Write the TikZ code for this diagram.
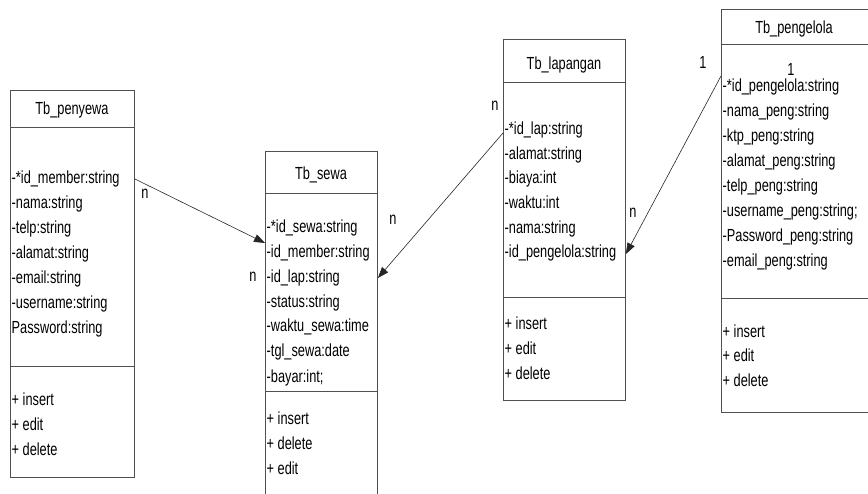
\documentclass[tikz,border=0pt]{standalone}
\usepackage{fontspec}
\setmainfont{Liberation Sans}[FakeStretch=0.73]
\usetikzlibrary{arrows.meta,calc}
\definecolor{edgegray}{RGB}{80,80,80}
\begin{document}
\begin{tikzpicture}[x=1pt,y=-1pt,
  font=\fontsize{17.5}{25}\selectfont,
  classbox/.style={draw=edgegray, line width=0.9pt, rectangle, inner sep=0pt, anchor=north west},
  divider/.style={draw=edgegray, line width=0.9pt},
  attr/.style={anchor=base west, inner sep=0pt},
  ctitle/.style={anchor=base, inner sep=0pt},
  mult/.style={anchor=base, inner sep=0pt},
  rel/.style={draw=black!85, line width=0.6pt, -{Triangle[length=11pt,width=8pt]}}]
\useasboundingbox (0,0) rectangle (868,493);

% ---------- Tb_penyewa ----------
\node[classbox, minimum width=124pt, minimum height=387pt] (penyewa) at (10,90) {};
\draw[divider] (penyewa.west |- 0,127) -- (penyewa.east |- 0,127);
\draw[divider] (penyewa.west |- 0,366) -- (penyewa.east |- 0,366);
\node[ctitle] (penyewaT) at (72,114) {Tb\_penyewa};
\node[attr] (p1) at (11.5,183) {-*id\_member:string};
\node[attr] (p2) at (11.5,208) {-nama:string};
\node[attr] (p3) at (11.5,233) {-telp:string};
\node[attr] (p4) at (11.5,258) {-alamat:string};
\node[attr] (p5) at (11.5,283) {-email:string};
\node[attr] (p6) at (11.5,308) {-username:string};
\node[attr] (p7) at (11.5,333) {Password:string};
\node[attr] (pm1) at (11.5,405) {+ insert};
\node[attr] (pm2) at (11.5,430) {+ edit};
\node[attr] (pm3) at (11.5,455) {+ delete};

% ---------- Tb_sewa ----------
\node[classbox, minimum width=112pt, minimum height=352pt] (sewa) at (265,151) {};
\draw[divider] (sewa.west |- 0,193) -- (sewa.east |- 0,193);
\draw[divider] (sewa.west |- 0,391) -- (sewa.east |- 0,391);
\node[ctitle] (sewaT) at (321,179) {Tb\_sewa};
\node[attr] (s1) at (266.5,232) {-*id\_sewa:string};
\node[attr] (s2) at (266.5,257) {-id\_member:string};
\node[attr] (s3) at (266.5,282) {-id\_lap:string};
\node[attr] (s4) at (266.5,307) {-status:string};
\node[attr] (s5) at (266.5,331) {-waktu\_sewa:time};
\node[attr] (s6) at (266.5,356) {-tgl\_sewa:date};
\node[attr] (s7) at (266.5,382) {-bayar:int;};
\node[attr] (sm1) at (266.5,424) {+ insert};
\node[attr] (sm2) at (266.5,449) {+ delete};
\node[attr] (sm3) at (266.5,474) {+ edit};

% ---------- Tb_lapangan ----------
\node[classbox, minimum width=122pt, minimum height=361pt] (lap) at (503,39) {};
\draw[divider] (lap.west |- 0,82) -- (lap.east |- 0,82);
\draw[divider] (lap.west |- 0,297) -- (lap.east |- 0,297);
\node[ctitle] (lapT) at (564,69) {Tb\_lapangan};
\node[attr] (l1) at (504.5,134) {-*id\_lap:string};
\node[attr] (l2) at (504.5,159) {-alamat:string};
\node[attr] (l3) at (504.5,183) {-biaya:int};
\node[attr] (l4) at (504.5,208) {-waktu:int};
\node[attr] (l5) at (504.5,233) {-nama:string};
\node[attr] (l6) at (504.5,257) {-id\_pengelola:string};
\node[attr] (lm1) at (504.5,329) {+ insert};
\node[attr] (lm2) at (504.5,354) {+ edit};
\node[attr] (lm3) at (504.5,379) {+ delete};

% ---------- Tb_pengelola ----------
\node[classbox, minimum width=148pt, minimum height=403pt] (peng) at (721,9) {};
\draw[divider] (peng.west |- 0,44) -- (peng.east |- 0,44);
\draw[divider] (peng.west |- 0,298) -- (peng.east |- 0,298);
\node[ctitle] (pengT) at (794,33) {Tb\_pengelola};
\node[attr] (g1) at (722.5,91) {-*id\_pengelola:string};
\node[attr] (g2) at (722.5,116) {-nama\_peng:string};
\node[attr] (g3) at (722.5,141) {-ktp\_peng:string};
\node[attr] (g4) at (722.5,166) {-alamat\_peng:string};
\node[attr] (g5) at (722.5,191) {-telp\_peng:string};
\node[attr] (g6) at (722.5,216) {-username\_peng:string;};
\node[attr] (g7) at (722.5,241) {-Password\_peng:string};
\node[attr] (g8) at (722.5,266) {-email\_peng:string};
\node[attr] (gm1) at (722.5,337) {+ insert};
\node[attr] (gm2) at (722.5,361) {+ edit};
\node[attr] (gm3) at (722.5,386) {+ delete};

% ---------- connector end points on the class borders ----------
\coordinate (penOut) at (penyewa.east |- 0,179);
\coordinate (sewaInL) at (sewa.west |- 0,243);
\coordinate (lapOut) at (lap.west |- 0,133);
\coordinate (sewaInR) at (sewa.east |- 0,278);
\coordinate (pengOut) at (peng.west |- 0,76);
\coordinate (lapInR) at (lap.east |- 0,254);

% ---------- relations ----------
\draw[rel] (penOut) -- (sewaInL);
\draw[rel] (lapOut) -- (sewaInR);
\draw[rel] (pengOut) -- (lapInR);

% ---------- multiplicities ----------
\node[mult] (m1) at (145,198) {n};
\node[mult] (m2) at (253,281) {n};
\node[mult] (m3) at (495,110) {n};
\node[mult] (m4) at (393,224) {n};
\node[mult] (m5) at (633,217) {n};
\node[mult] (m6) at (703,68) {1};
\node[mult] (m7) at (791,75) {1};
\end{tikzpicture}
\end{document}
